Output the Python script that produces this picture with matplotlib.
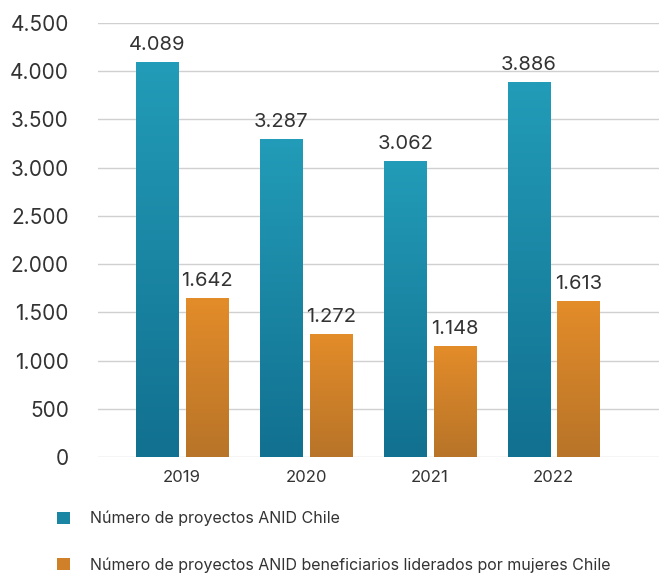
import numpy as np
import matplotlib
matplotlib.use('Agg')
import matplotlib.pyplot as plt
from matplotlib.colors import LinearSegmentedColormap
from matplotlib.patches import Patch

# Data
years = ['2019', '2020', '2021', '2022']
anid_total = [4089, 3287, 3062, 3886]
anid_mujeres = [1642, 1272, 1148, 1613]
series_labels = ['Número de proyectos ANID Chile',
                 'Número de proyectos ANID beneficiarios liderados por mujeres Chile']
yticks = [0, 500, 1000, 1500, 2000, 2500, 3000, 3500, 4000, 4500]

def fmt(v):
    return f'{v:,}'.replace(',', '.')

plt.rcParams['font.family'] = ['Inter', 'DejaVu Sans']
text_color = '#333333'

teal_cmap = LinearSegmentedColormap.from_list('teal', ['#127090', '#229cb8'])
orange_cmap = LinearSegmentedColormap.from_list('orange', ['#b87428', '#e38c2a'])

fig = plt.figure(figsize=(6.59, 5.74), dpi=100)
ax = fig.add_axes([98/659, 117/574, 561/659, 434/574])

x = np.arange(len(years))
width = 0.34
offset = 0.2
grad = np.linspace(0, 1, 256).reshape(-1, 1)

def gradient_bars(xs, vals, cmap):
    for xi, v in zip(xs, vals):
        ax.imshow(grad, cmap=cmap, origin='lower', aspect='auto',
                  extent=[xi - width/2, xi + width/2, 0, v], zorder=2)
        ax.text(xi, v + 90, fmt(v), ha='center', va='bottom',
                fontsize=14.5, color=text_color, clip_on=False)

gradient_bars(x - offset, anid_total, teal_cmap)
gradient_bars(x + offset, anid_mujeres, orange_cmap)

ax.set_xlim(-0.68, 3.85)
ax.set_ylim(0, 4500)
ax.set_yticks(yticks)
ax.set_yticklabels([fmt(v) for v in yticks], fontsize=15, color=text_color)
ax.set_xticks(x)
ax.set_xticklabels(years, fontsize=12, color=text_color)
ax.tick_params(axis='both', length=0)
ax.tick_params(axis='y', pad=21)
ax.tick_params(axis='x', pad=9)
ax.grid(axis='y', color='#d0d0d0', linewidth=1)
ax.set_axisbelow(True)
for s in ax.spines.values():
    s.set_visible(False)

handles = [Patch(facecolor='#1a86a4'), Patch(facecolor='#d08029')]
fig.legend(handles, series_labels, loc='upper left', bbox_to_anchor=(44/659, 1 - 498/574),
           frameon=False, fontsize=11.5, labelcolor=text_color, handlelength=0.8,
           handleheight=0.8, handletextpad=1.3, labelspacing=1.95, borderpad=0.3)

fig.savefig('out.png', dpi=100)
